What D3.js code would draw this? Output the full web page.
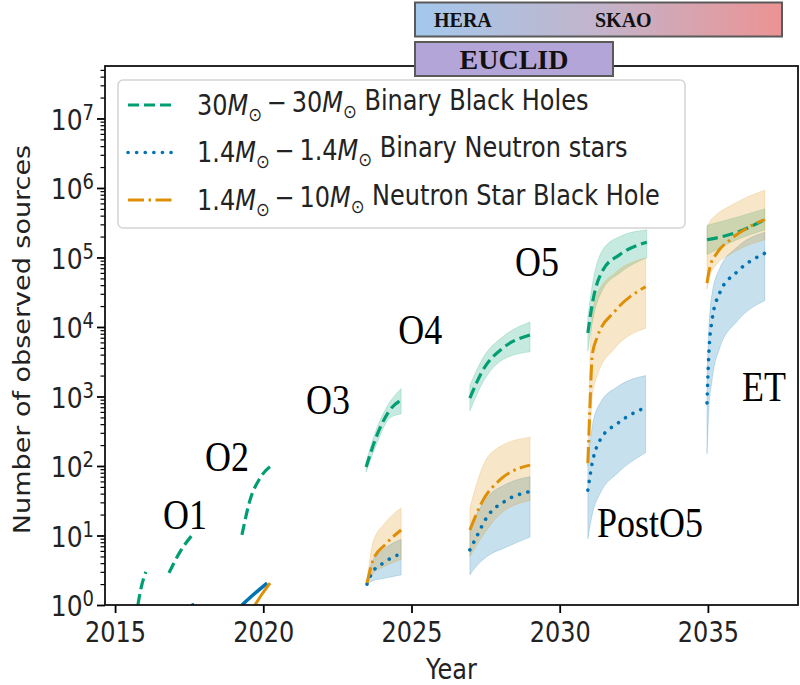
<!DOCTYPE html>
<html>
<head>
<meta charset="utf-8">
<script src="https://cdn.jsdelivr.net/npm/d3@7"></script>
<style>
  body { margin: 0; background: #fff; }
  svg { display: block; }
</style>
</head>
<body>
<div id="chart"></div>
<script>
// Data: one inner array per observing run segment
const bbhYears = [
    [2015.77, 2015.87, 2016.04],
    [2016.82, 2017.19, 2017.66],
    [2019.28, 2019.55, 2019.89, 2020.3],
    [2023.47, 2023.84, 2024.27, 2024.65],
    [2026.97, 2027.41, 2028.09, 2029.0],
    [2030.95, 2031.12, 2031.46, 2032.03, 2032.94],
    [2034.97, 2035.98, 2036.92]
];
const bbhMid = [
    [1.0, 1.7, 3.0],
    [2.9, 5.8, 10.9],
    [10.2, 32, 67, 103],
    [97, 280, 640, 890],
    [950, 2400, 5000, 7700],
    [8200, 24000, 66000, 110000, 166000],
    [180000, 230000, 350000]
];
const bbhLo = [null, null, null,
    [82, 215, 490, 560],
    [620, 1600, 3400, 4400],
    [4500, 13000, 35000, 60000, 100000],
    [110000, 180000, 250000]
];
const bbhHi = [null, null, null,
    [115, 360, 830, 1300],
    [1450, 3600, 7300, 11800],
    [14000, 45000, 130000, 200000, 250000],
    [290000, 380000, 500000]
];

const bnsYears = [
    [2017.62, 2017.70],
    [2019.28, 2019.69, 2020.13],
    [2023.5, 2023.67, 2024.04, 2024.65],
    [2026.97, 2027.14, 2027.55, 2028.2, 2029.0],
    [2030.95, 2031.12, 2031.36, 2031.97, 2032.9],
    [2034.97, 2035.03, 2035.14, 2035.4, 2035.98, 2036.92]
];
const bnsMid = [
    [1.0, 1.03],
    [1.0, 1.44, 2.07],
    [2.0, 2.9, 4.0, 5.5],
    [6.2, 8.6, 18.5, 32, 43],
    [45, 122, 235, 415, 700],
    [810, 4000, 12600, 31000, 62000, 115000]
];
const bnsLo = [null, null,
    [2.0, 2.2, 2.4, 2.7],
    [2.7, 3.4, 5.0, 6.8, 9.5],
    [9, 22, 40, 80, 155],
    [150, 600, 1700, 5000, 12000, 24000]
];
const bnsHi = [null, null,
    [2.1, 4.2, 6.2, 8.8],
    [12, 18, 35, 55, 70],
    [120, 420, 800, 1400, 2000],
    [2000, 9000, 30000, 70000, 140000, 230000]
];

const nsbhYears = [
    [2019.72, 2019.96, 2020.23],
    [2023.5, 2023.7, 2024.1, 2024.65],
    [2026.97, 2027.41, 2027.98, 2029.0],
    [2030.95, 2031.02, 2031.1, 2031.27, 2031.87, 2032.9],
    [2034.97, 2035.07, 2035.3, 2035.74, 2036.35, 2036.92]
];
const nsbhMid = [
    [1.0, 1.44, 2.07],
    [2.07, 4.4, 7.3, 12],
    [12, 32, 63, 103],
    [110, 700, 4000, 7200, 17000, 38000],
    [43000, 73000, 115000, 178000, 270000, 350000]
];
const nsbhLo = [null,
    [2.0, 2.8, 3.6, 4.5],
    [5, 10, 20, 32],
    [100, 300, 1000, 2000, 5000, 9600],
    [35000, 55000, 80000, 110000, 150000, 180000]
];
const nsbhHi = [null,
    [2.2, 8, 15, 25],
    [25, 100, 190, 260],
    [130, 3000, 15000, 30000, 60000, 98000],
    [270000, 330000, 420000, 550000, 750000, 930000]
];

const xTicks = [2015, 2020, 2025, 2030, 2035];
const yExponents = [0, 1, 2, 3, 4, 5, 6, 7];

const legendMasses = [["30", "30"], ["1.4", "1.4"], ["1.4", "10"]];
const legendNames = ["Binary Black Holes", "Binary Neutron stars", "Neutron Star Black Hole"];

// run annotations (year, value at text centre)
const runLabels = ["O1", "O2", "O3", "O4", "O5", "PostO5", "ET"];
const runLabelYears = [2016.62, 2018.03, 2021.44, 2024.55, 2028.49, 2031.26, 2036.15];
const runLabelValues = [19.7, 135, 890, 9100, 87000, 15, 1380];

const surveyTop = ["HERA", "SKAO"];
const surveyBottom = "EUCLID";

// ---------------------------------------------------------------
const viewW = 800, viewH = 685;
const margin = { top: 66, right: 2, bottom: 80, left: 105 };
const font = "'DejaVu Sans', sans-serif";
const serif = "'Liberation Serif', 'Times New Roman', serif";
const k = 1.15;   // the figure's text is a little taller than it is wide

const svg = d3.select("#chart").append("svg")
    .attr("width", viewW)
    .attr("height", viewH);

const x = d3.scaleLinear()
    .domain([2014.66, 2038.04])
    .range([margin.left, viewW - margin.right]);
const y = d3.scaleLog()
    .domain([1, Math.pow(10, 7.755)])
    .range([viewH - margin.bottom, margin.top]);

svg.append("clipPath").attr("id", "plot-clip")
    .append("rect")
    .attr("x", margin.left).attr("y", margin.top)
    .attr("width", x.range()[1] - margin.left)
    .attr("height", y.range()[0] - margin.top);

const series = [
    { name: "bbh", color: "#029E73", years: bbhYears, mid: bbhMid, lo: bbhLo, hi: bbhHi,
      dash: "11 5", width: 3.2, cap: "butt", solid: [] },
    { name: "bns", color: "#0173B2", years: bnsYears, mid: bnsMid, lo: bnsLo, hi: bnsHi,
      dash: "0.1 8.5", width: 3.6, cap: "round", solid: [1] },
    { name: "nsbh", color: "#DE8F05", years: nsbhYears, mid: nsbhMid, lo: nsbhLo, hi: nsbhHi,
      dash: "16 4.5 2.5 4.5", width: 3, cap: "butt", solid: [0] }
];

const segs = s => s.years.map((yrs, i) => yrs.map((yr, j) => ({
    yr,
    mid: s.mid[i][j],
    lo: s.lo[i] ? s.lo[i][j] : null,
    hi: s.hi[i] ? s.hi[i][j] : null
})));

const line = d3.line()
    .x(d => x(d.yr)).y(d => y(d.mid))
    .curve(d3.curveMonotoneX);
const area = d3.area()
    .x(d => x(d.yr)).y0(d => y(d.lo)).y1(d => y(d.hi))
    .curve(d3.curveMonotoneX);

const plot = svg.append("g").attr("clip-path", "url(#plot-clip)");

// bands first
series.forEach(s => {
    plot.append("g")
        .selectAll("path")
        .data(segs(s).filter(seg => seg[0].lo !== null))
        .join("path")
        .attr("d", area)
        .attr("fill", s.color)
        .attr("fill-opacity", 0.22)
        .attr("stroke", s.color)
        .attr("stroke-opacity", 0.18)
        .attr("stroke-width", 1);
});

// then the lines
series.forEach(s => {
    plot.append("g")
        .selectAll("path")
        .data(segs(s))
        .join("path")
        .attr("d", line)
        .attr("fill", "none")
        .attr("stroke", s.color)
        .attr("stroke-width", s.width)
        .attr("stroke-linecap", (d, i) => s.solid.includes(i) ? "butt" : s.cap)
        .attr("stroke-dasharray", (d, i) => s.solid.includes(i) ? null : s.dash);
});

// run annotations
svg.append("g")
    .selectAll("text")
    .data(runLabels)
    .join("text")
    .attr("transform", (d, i) => `translate(${x(runLabelYears[i])},${y(runLabelValues[i])}) scale(1,${k})`)
    .attr("dy", "0.34em")
    .attr("font-family", serif)
    .attr("font-size", 36)
    .attr("fill", "#000")
    .text(d => d);

// axes
const xAxis = d3.axisBottom(x).tickValues(xTicks).tickFormat(d3.format("d")).tickSize(8);
const gx = svg.append("g")
    .attr("transform", `translate(0,${y.range()[0]})`)
    .call(xAxis);
gx.select(".domain").remove();
gx.selectAll(".tick line").attr("stroke", "#000").attr("stroke-width", 1.8);
gx.selectAll(".tick text")
    .attr("y", null).attr("dy", "0.36em")
    .attr("transform", `translate(0,27) scale(1,${k})`)
    .attr("font-family", font).attr("font-size", 24).attr("fill", "#222");

const majorY = yExponents.map(e => Math.pow(10, e));
const minorY = [];
for (let e = 0; e < 8; e++) {
    for (let m = 2; m <= 9; m++) {
        const v = m * Math.pow(10, e);
        if (v < y.domain()[1]) minorY.push(v);
    }
}
const gyMinor = svg.append("g")
    .attr("transform", `translate(${margin.left},0)`)
    .call(d3.axisLeft(y).tickValues(minorY).tickFormat("").tickSize(4.5));
gyMinor.select(".domain").remove();
gyMinor.selectAll(".tick line").attr("stroke", "#000").attr("stroke-width", 1.2);

const gy = svg.append("g")
    .attr("transform", `translate(${margin.left},0)`)
    .call(d3.axisLeft(y).tickValues(majorY).tickFormat("").tickSize(8));
gy.select(".domain").remove();
gy.selectAll(".tick line").attr("stroke", "#000").attr("stroke-width", 1.8);
const yLab = gy.selectAll(".tick").append("text")
    .attr("transform", `translate(-11,0) scale(1,${k})`)
    .attr("dy", "0.38em")
    .attr("text-anchor", "end")
    .attr("font-family", font)
    .attr("font-size", 25)
    .attr("fill", "#222");
yLab.append("tspan").text("10");
yLab.append("tspan")
    .attr("dy", "-0.5em")
    .attr("font-size", 18)
    .text((d, i) => yExponents[i]);

// frame
svg.append("rect")
    .attr("x", margin.left).attr("y", margin.top)
    .attr("width", x.range()[1] - margin.left)
    .attr("height", y.range()[0] - margin.top)
    .attr("fill", "none")
    .attr("stroke", "#111")
    .attr("stroke-width", 1.8);

// axis titles
svg.append("text")
    .attr("transform", `translate(${(margin.left + x.range()[1]) / 2},669) scale(1,${k})`)
    .attr("dy", "0.36em")
    .attr("text-anchor", "middle")
    .attr("font-family", font)
    .attr("font-size", 24)
    .attr("fill", "#222")
    .text("Year");
svg.append("text")
    .attr("transform", `translate(22,${(margin.top + y.range()[0]) / 2 + 4}) rotate(-90) scale(${k},1)`)
    .attr("dy", "0.36em")
    .attr("text-anchor", "middle")
    .attr("font-family", font)
    .attr("font-size", 23.5)
    .attr("fill", "#222")
    .text("Number of observed sources");

// legend
const legend = svg.append("g").attr("transform", "translate(118,80)");
legend.append("rect")
    .attr("width", 567).attr("height", 148)
    .attr("rx", 5)
    .attr("fill", "#fff").attr("fill-opacity", 0.85)
    .attr("stroke", "#d4d4d4").attr("stroke-width", 1.5);
series.forEach((s, i) => {
    const ry = 25 + i * 47.5;
    legend.append("line")
        .attr("x1", 10).attr("x2", 57)
        .attr("y1", ry).attr("y2", ry)
        .attr("stroke", s.color)
        .attr("stroke-width", s.width)
        .attr("stroke-linecap", s.cap)
        .attr("stroke-dasharray", s.dash);
    const t = legend.append("text")
        .attr("transform", `translate(79,${ry}) scale(1,${k})`)
        .attr("dy", "0.36em")
        .attr("font-family", font).attr("font-size", 24).attr("fill", "#222");
    const [m1, m2] = legendMasses[i];
    t.append("tspan").text(m1);
    t.append("tspan").attr("font-style", "italic").text("M");
    t.append("tspan").attr("font-size", 16.5).attr("dy", "0.3em").text("\u2299");
    t.append("tspan").attr("dy", "-0.3em").text("\u2009\u2212\u2009" + m2);
    t.append("tspan").attr("font-style", "italic").text("M");
    t.append("tspan").attr("font-size", 16.5).attr("dy", "0.3em").text("\u2299");
    t.append("tspan").attr("dy", "-0.3em").text(" " + legendNames[i]);
});

// survey bars on top
const defs = svg.append("defs");
const grad = defs.append("linearGradient").attr("id", "survey-grad");
grad.append("stop").attr("offset", "0%").attr("stop-color", "#a3c8ec");
grad.append("stop").attr("offset", "50%").attr("stop-color", "#c2b4cb");
grad.append("stop").attr("offset", "100%").attr("stop-color", "#ec9393");

svg.append("rect")
    .attr("x", 415).attr("y", 2.5).attr("width", 367).attr("height", 34)
    .attr("fill", "url(#survey-grad)")
    .attr("stroke", "#5a5a5a").attr("stroke-width", 2);
svg.append("g").selectAll("text")
    .data(surveyTop)
    .join("text")
    .attr("x", (d, i) => i === 0 ? 434 : 595)
    .attr("y", 27)
    .attr("font-family", serif)
    .attr("font-weight", "bold")
    .attr("font-size", 20)
    .attr("fill", "#111")
    .text(d => d);

svg.append("rect")
    .attr("x", 415).attr("y", 42).attr("width", 198).attr("height", 34)
    .attr("fill", "#b4a5d8")
    .attr("stroke", "#5a5a5a").attr("stroke-width", 2);
svg.append("text")
    .attr("x", 514).attr("y", 69)
    .attr("text-anchor", "middle")
    .attr("font-family", serif)
    .attr("font-weight", "bold")
    .attr("font-size", 28)
    .attr("fill", "#111")
    .text(surveyBottom);
</script>
</body>
</html>
